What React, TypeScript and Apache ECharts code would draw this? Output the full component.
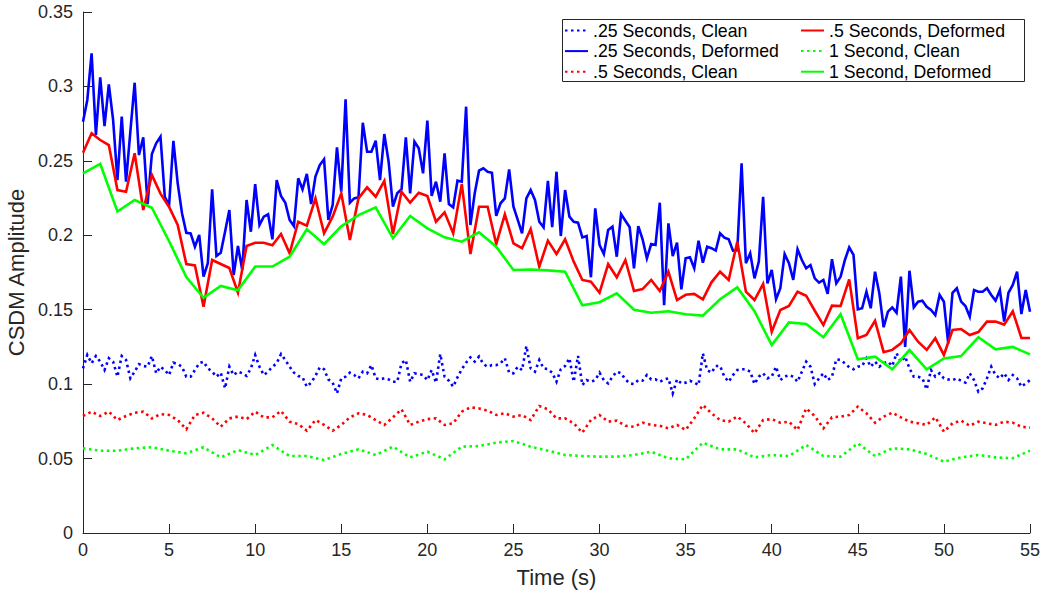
import React, { useEffect, useRef } from "react";
import * as echarts from "echarts";

// Time steps (s) of the three sampling rates
const STEP_QUARTER = 0.25;
const STEP_HALF = 0.5;
const STEP_ONE = 1;

const xTicks = [0, 5, 10, 15, 20, 25, 30, 35, 40, 45, 50, 55];
const yTicks = [0, 0.05, 0.1, 0.15, 0.2, 0.25, 0.3, 0.35];

const seriesNames = [
  ".25 Seconds, Clean",
  ".25 Seconds, Deformed",
  ".5 Seconds, Clean",
  ".5 Seconds, Deformed",
  "1 Second, Clean",
  "1 Second, Deformed",
];

// .25 s, Clean (t = 0 .. 55 step 0.25)
const quarterClean = [
  0.1106, 0.1196, 0.114, 0.1189, 0.1151, 0.1095, 0.1174, 0.1151, 0.105, 0.1189, 0.1162, 0.1039,
  0.1084, 0.1135, 0.1122, 0.1117, 0.1189, 0.1073, 0.1117, 0.1095, 0.1061, 0.1144, 0.1135, 0.1117,
  0.105, 0.105, 0.1095, 0.114, 0.1151, 0.1106, 0.1084, 0.105, 0.1077, 0.0972, 0.1117, 0.1061,
  0.1084, 0.1073, 0.1055, 0.1106, 0.1196, 0.1117, 0.1061, 0.1084, 0.1117, 0.114, 0.1202, 0.1162,
  0.1117, 0.1077, 0.1055, 0.1046, 0.0983, 0.101, 0.1055, 0.1113, 0.11, 0.1032, 0.101, 0.0938,
  0.1039, 0.105, 0.1077, 0.1061, 0.1039, 0.1084, 0.1073, 0.1128, 0.1039, 0.1032, 0.1039, 0.1032,
  0.1016, 0.1016, 0.114, 0.1162,
  0.1016, 0.1073, 0.1068, 0.1061, 0.1027, 0.1095, 0.101, 0.1202, 0.105, 0.1023, 0.0983, 0.1046,
  0.11, 0.1144, 0.118, 0.1151, 0.1185, 0.1135, 0.1117, 0.1128, 0.1128, 0.114, 0.1174, 0.1077,
  0.1073, 0.1117, 0.1095, 0.1256, 0.1106, 0.1084, 0.1162, 0.1106, 0.11, 0.1077, 0.1016, 0.11,
  0.1122, 0.1174, 0.1016, 0.1189, 0.0994, 0.1027, 0.1016, 0.1027, 0.1077, 0.1027, 0.1005, 0.105,
  0.1084, 0.1073, 0.1032, 0.1005, 0.1001, 0.1027, 0.1023, 0.1061, 0.1032, 0.1032, 0.1016, 0.1032,
  0.1039, 0.0938, 0.1032, 0.1005, 0.101, 0.1023, 0.101, 0.0994,
  0.1207, 0.1095, 0.1077, 0.1122, 0.1122, 0.105, 0.1016, 0.1061, 0.1095, 0.11, 0.11, 0.1084,
  0.1001, 0.105, 0.1073, 0.1039, 0.105, 0.1117, 0.1027, 0.105, 0.1061, 0.105, 0.1016, 0.1084,
  0.1151, 0.1117, 0.1001, 0.1039, 0.1073, 0.1027, 0.105, 0.1167, 0.1162, 0.114, 0.1113, 0.11,
  0.1117, 0.1122, 0.1174, 0.1117, 0.1151, 0.1117, 0.114, 0.1151, 0.1122, 0.1207, 0.1151, 0.1185,
  0.1106, 0.105, 0.105, 0.1039, 0.0965, 0.1095, 0.105, 0.1073, 0.1039, 0.1032, 0.1027, 0.1039,
  0.1023, 0.101, 0.1073, 0.1027, 0.0949, 0.0972, 0.1039, 0.1117, 0.1061, 0.1039, 0.1073, 0.1027,
  0.1061, 0.1039, 0.0983, 0.1005, 0.1027,
];

// .25 s, Deformed (t = 0 .. 55 step 0.25)
const quarterDeformed = [
  0.2763, 0.2909, 0.3222, 0.2674, 0.3061, 0.2734, 0.3014, 0.2774, 0.2371, 0.2797, 0.236, 0.2696,
  0.3025, 0.2539, 0.2658, 0.221, 0.2546, 0.2618, 0.2662, 0.2259, 0.2203, 0.2635, 0.2349, 0.2148,
  0.2017, 0.2013, 0.1923, 0.2002, 0.1722, 0.1812, 0.2309, 0.1861, 0.1883, 0.2024, 0.217, 0.1733,
  0.1928, 0.1767, 0.2237, 0.2024, 0.2344, 0.2069, 0.2125, 0.2141, 0.1973, 0.2371, 0.2264, 0.2219,
  0.2103, 0.2062, 0.2383, 0.2309, 0.2412, 0.221, 0.2394, 0.2472, 0.251,
  0.2103, 0.2203, 0.2591, 0.2293, 0.2913, 0.2219, 0.2248, 0.2255, 0.2756, 0.2561, 0.2561, 0.2635,
  0.2371, 0.268, 0.2494, 0.2192, 0.2282, 0.2309, 0.2658, 0.2282, 0.2629, 0.2584, 0.2416, 0.277,
  0.2264, 0.236, 0.2226, 0.2551, 0.221, 0.2188, 0.2367, 0.236, 0.2864, 0.2069, 0.2282, 0.2434,
  0.245, 0.2427, 0.242, 0.213, 0.2215, 0.2248, 0.2443, 0.2192, 0.2103, 0.2013, 0.2248, 0.2304,
  0.2237, 0.2091, 0.2054, 0.2365, 0.2054, 0.2427, 0.1995, 0.2304, 0.2125, 0.2091, 0.2085, 0.1986,
  0.1995, 0.1718, 0.2181, 0.1935, 0.1874, 0.2035, 0.2058, 0.1856, 0.2143, 0.2098, 0.2054, 0.1778,
  0.2062, 0.1973, 0.1845, 0.1941, 0.1935, 0.2219, 0.153, 0.208, 0.1861, 0.195, 0.1637, 0.1845,
  0.1852, 0.1778, 0.1964, 0.1816, 0.1923, 0.1913, 0.1897, 0.2013, 0.1984, 0.1973, 0.1897, 0.1899,
  0.2484, 0.1812, 0.1879, 0.1711, 0.1823, 0.2259, 0.1677, 0.1767,
  0.157, 0.1644, 0.1874, 0.1812, 0.17, 0.1906, 0.1834, 0.1778, 0.18, 0.1711, 0.1682, 0.17,
  0.1606, 0.1839, 0.1677, 0.1722, 0.1834, 0.1919, 0.1868, 0.1503, 0.151, 0.1621, 0.151, 0.1755,
  0.161, 0.1382, 0.1487, 0.1516, 0.148, 0.1722, 0.125, 0.1762, 0.1516, 0.1554, 0.1561, 0.152,
  0.1498, 0.1464, 0.1599, 0.1554, 0.1274, 0.1614, 0.1644, 0.1554, 0.1525, 0.1453, 0.1632, 0.1621,
  0.1621, 0.1644, 0.1599, 0.1561, 0.1632, 0.142, 0.1614, 0.1666, 0.1755, 0.1471, 0.1632, 0.1487,
];

// .5 s, Clean (t = 0 .. 55 step 0.5)
const halfClean = [
  0.0786, 0.0815, 0.0786, 0.0815, 0.0759, 0.0786, 0.0808, 0.0815, 0.077, 0.0799, 0.0793, 0.0759,
  0.0697, 0.0793, 0.0808, 0.077, 0.0714, 0.077, 0.0782, 0.0765, 0.0815, 0.0777, 0.0777, 0.082,
  0.0748, 0.0732, 0.0687, 0.0759, 0.0726, 0.0687, 0.0726, 0.0777, 0.0804, 0.0793, 0.0759, 0.0726,
  0.0777, 0.0831,
  0.0726, 0.0748, 0.0765, 0.077, 0.0726, 0.0737, 0.0815, 0.0844, 0.0837, 0.0822, 0.0793, 0.0804,
  0.0782, 0.0793, 0.0759, 0.0853, 0.0831, 0.077, 0.077, 0.0737, 0.0674, 0.0759, 0.0793, 0.0748,
  0.0755, 0.072, 0.0714, 0.0741, 0.0726, 0.072, 0.0703, 0.0726, 0.0692, 0.077,
  0.086, 0.0804, 0.0759, 0.0748, 0.0782, 0.0737, 0.067, 0.0759, 0.0765, 0.0741, 0.0748, 0.0692,
  0.0837, 0.0786, 0.0703, 0.0777, 0.0782, 0.0793, 0.0849, 0.0804, 0.0741, 0.0782, 0.0808, 0.0777,
  0.0748, 0.0737, 0.0726, 0.0777, 0.0681, 0.0737, 0.0755, 0.072, 0.0748, 0.0737, 0.0726, 0.0748,
  0.0741, 0.0714, 0.0708,
];

// .5 s, Deformed (t = 0 .. 55 step 0.5)
const halfDeformed = [
  0.2555, 0.2685, 0.264, 0.2606, 0.2304, 0.2293, 0.2551, 0.217, 0.2405, 0.228, 0.219, 0.207,
  0.1807, 0.1798, 0.152, 0.1834, 0.1807, 0.178, 0.1614, 0.1928, 0.195, 0.195, 0.1933, 0.2009,
  0.1879, 0.2091, 0.2065, 0.2248, 0.2013,
  0.2125, 0.2282, 0.1968, 0.2248, 0.2322, 0.2259, 0.2365, 0.2009, 0.2293, 0.2219, 0.2286, 0.2264,
  0.2091, 0.2154, 0.2013, 0.2344, 0.1874, 0.2192, 0.2192, 0.1941, 0.2141, 0.1946, 0.1913, 0.2042,
  0.1789, 0.1964,
  0.1874, 0.1973, 0.1823, 0.17, 0.1688, 0.1614, 0.1807, 0.1718, 0.1834, 0.1626, 0.1639, 0.17,
  0.1626, 0.1755, 0.1565, 0.16, 0.1606, 0.157, 0.1684, 0.1755, 0.17, 0.1957, 0.1621, 0.1565,
  0.1673,
  0.1352, 0.1498, 0.1525, 0.1621, 0.1594, 0.1493, 0.1397, 0.1527, 0.1525, 0.1704, 0.1308, 0.133,
  0.1426,
  0.1215, 0.123, 0.1274, 0.1364, 0.1285, 0.123, 0.1308, 0.1196, 0.1364, 0.137, 0.133, 0.135,
  0.142, 0.142, 0.14, 0.149, 0.131, 0.131,
];

// 1 s, Clean (t = 0 .. 55 step 1)
const oneClean = [
  0.0569, 0.0553, 0.0553, 0.0569, 0.0576, 0.0553, 0.0535, 0.0576, 0.0508, 0.0557, 0.0524, 0.0591,
  0.0517, 0.0517, 0.049, 0.0531, 0.0562, 0.0524, 0.058, 0.0508, 0.0546, 0.0495, 0.058, 0.0584,
  0.0607, 0.0618, 0.058, 0.0553, 0.0524, 0.0517, 0.0513, 0.0513, 0.0524, 0.0546, 0.0502, 0.0495,
  0.0607, 0.0562, 0.0562, 0.0508, 0.0524, 0.0517, 0.0591, 0.0517, 0.0513, 0.0602, 0.0517, 0.0569,
  0.0562, 0.0531, 0.0479, 0.0508, 0.0524, 0.0508, 0.0502, 0.0553,
];

// 1 s, Deformed (t = 0 .. 55 step 1)
const oneDeformed = [
  0.2416, 0.248, 0.216, 0.2237, 0.2185, 0.196, 0.172, 0.158, 0.166, 0.163, 0.179, 0.179,
  0.1856, 0.204, 0.194, 0.206, 0.2136, 0.2188, 0.198, 0.213, 0.2047, 0.1986, 0.1957, 0.202,
  0.1923, 0.1767, 0.177, 0.1764, 0.1755, 0.153, 0.155, 0.161, 0.15, 0.148, 0.149, 0.147,
  0.146, 0.157, 0.165, 0.149, 0.1263, 0.1415, 0.1404, 0.1315, 0.147, 0.1167, 0.1185, 0.11,
  0.1229, 0.11, 0.1173, 0.1189, 0.1315, 0.1234, 0.125, 0.12,
];

const BLUE = "#0000ff";
const RED = "#ff0000";
const GREEN = "#00ff00";
const AXIS = "#262626";
const FONT = "Liberation Sans, Arial, Helvetica, sans-serif";

function pairs(values: number[], step: number) {
  return values.map((v, i) => [i * step, v]);
}

export default function App() {
  const ref = useRef<HTMLDivElement>(null);

  useEffect(() => {
    document.body.style.margin = "0";
    const chart = echarts.init(ref.current!, null, { renderer: "svg" });
    const dotted = [2.5, 3.5];
    const mk = (name: string, values: number[], step: number, color: string, isDotted: boolean) => ({
      name,
      type: "line",
      data: pairs(values, step),
      symbol: "none",
      showSymbol: false,
      smooth: false,
      itemStyle: { color },
      lineStyle: { color, width: 2.6, type: isDotted ? dotted : "solid", cap: "butt", join: "miter" },
      emphasis: { disabled: true },
    });
    const legendText = { fontFamily: FONT, fontSize: 17.7, color: "#000", lineHeight: 20 };
    const legendCommon = {
      orient: "vertical",
      top: 20.5,
      padding: 0,
      itemWidth: 23,
      itemHeight: 14,
      itemGap: 0.6,
      textStyle: legendText,
      selectedMode: false,
      itemStyle: { opacity: 0, color: "rgba(0,0,0,0)", borderWidth: 0 },
      z: 10,
    };
    chart.setOption({
      animation: false,
      backgroundColor: "#fff",
      grid: { left: 83, right: 12, top: 12, bottom: 61, containLabel: false, outerBoundsMode: "none" },
      xAxis: {
        type: "value",
        min: xTicks[0],
        max: xTicks[xTicks.length - 1],
        interval: 5,
        name: "Time (s)",
        nameLocation: "middle",
        nameGap: 33,
        nameTextStyle: { fontFamily: FONT, fontSize: 22, color: AXIS },
        axisLine: { show: true, onZero: false, lineStyle: { color: AXIS, width: 1 } },
        axisTick: { show: true, inside: true, length: 9, lineStyle: { color: AXIS } },
        axisLabel: { fontFamily: FONT, fontSize: 18, color: AXIS, margin: 8 },
        splitLine: { show: false },
      },
      yAxis: {
        type: "value",
        min: yTicks[0],
        max: yTicks[yTicks.length - 1],
        interval: 0.05,
        name: "CSDM Amplitude",
        nameLocation: "middle",
        nameGap: 53,
        nameRotate: 90,
        nameTextStyle: { fontFamily: FONT, fontSize: 22, color: AXIS },
        axisLine: { show: true, onZero: false, lineStyle: { color: AXIS, width: 1 } },
        axisTick: { show: true, inside: true, length: 9, lineStyle: { color: AXIS } },
        axisLabel: {
          fontFamily: FONT,
          fontSize: 18,
          color: AXIS,
          margin: 10,
          formatter: (v: number) => (v === 0 ? "0" : String(parseFloat(v.toFixed(2)))),
        },
        splitLine: { show: false },
      },
      legend: [
        { ...legendCommon, data: seriesNames.slice(0, 3), left: 564 },
        { ...legendCommon, data: seriesNames.slice(3), left: 800 },
      ],
      graphic: [
        {
          type: "rect",
          z: 5,
          shape: { x: 562.5, y: 19.5, width: 462, height: 62 },
          style: { fill: "#fff", stroke: AXIS, lineWidth: 1 },
        },
      ],
      series: [
        mk(seriesNames[0], quarterClean, STEP_QUARTER, BLUE, true),
        mk(seriesNames[1], quarterDeformed, STEP_QUARTER, BLUE, false),
        mk(seriesNames[2], halfClean, STEP_HALF, RED, true),
        mk(seriesNames[3], halfDeformed, STEP_HALF, RED, false),
        mk(seriesNames[4], oneClean, STEP_ONE, GREEN, true),
        mk(seriesNames[5], oneDeformed, STEP_ONE, GREEN, false),
      ],
    });
    return () => chart.dispose();
  }, []);

  return (
    <div
      ref={ref}
      style={{ position: "fixed", left: 0, top: 0, width: 1042, height: 594 }}
    />
  );
}
